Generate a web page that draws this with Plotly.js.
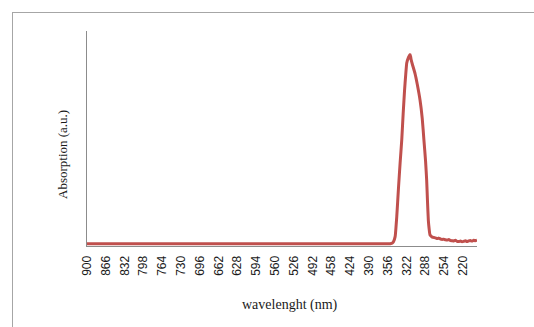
<!DOCTYPE html>
<html>
<head>
<meta charset="utf-8">
<script src="https://cdn.plot.ly/plotly-3.0.1.min.js"></script>
<style>
  html, body { margin: 0; padding: 0; width: 534px; height: 327px; overflow: hidden; background: #fff; }
  #frame { position: absolute; left: 12px; top: 12px; width: 600px; height: 400px; border: 1px solid #a6a6a6; box-sizing: border-box; }
  #chart { position: absolute; left: 0; top: 0; width: 534px; height: 327px; }
</style>
</head>
<body>
<div id="frame"></div>
<div id="chart"></div>
<script>
// wavelength (nm) and absorption (a.u.)
var wavelength = [900, 356, 352, 348, 346, 343, 340, 337, 334, 331, 328.5, 326, 324, 322, 319, 317, 316, 315, 314, 312, 307, 303, 298, 294, 291, 288, 286, 284.5, 283, 281.5, 280, 278, 276, 273, 270, 267, 264, 261, 258, 255, 252, 249, 246, 243, 240, 237, 234, 231, 228, 225, 222, 219, 216, 213, 210, 207, 204, 201, 198, 195];
var absorption = [0, 0, 0.001, 0.004, 0.01, 0.034, 0.13, 0.26, 0.38, 0.49, 0.61, 0.72, 0.79, 0.85, 0.875, 0.885, 0.89, 0.88, 0.865, 0.845, 0.80, 0.75, 0.676, 0.59, 0.49, 0.39, 0.30, 0.20, 0.112, 0.07, 0.042, 0.036, 0.032, 0.030, 0.028, 0.025, 0.027, 0.023, 0.021, 0.022, 0.019, 0.018, 0.020, 0.016, 0.015, 0.014, 0.017, 0.012, 0.011, 0.013, 0.010, 0.012, 0.015, 0.011, 0.014, 0.016, 0.013, 0.017, 0.015, 0.018];
var tickLabels = [900, 866, 832, 798, 764, 730, 696, 662, 628, 594, 560, 526, 492, 458, 424, 390, 356, 322, 288, 254, 220];

var trace = {
  x: wavelength,
  y: absorption,
  type: 'scatter',
  mode: 'lines',
  line: { color: '#C0504D', width: 3, shape: 'spline', smoothing: 0.4 },
  hoverinfo: 'x+y'
};

var layout = {
  width: 534,
  height: 327,
  margin: { l: 87, r: 57, t: 31, b: 81 },
  paper_bgcolor: 'rgba(0,0,0,0)',
  plot_bgcolor: 'rgba(0,0,0,0)',
  showlegend: false,
  xaxis: {
    range: [900, 195],
    tickmode: 'array',
    tickvals: tickLabels,
    ticktext: tickLabels.map(String),
    tickangle: -90,
    ticks: '',
    ticklabelstandoff: 4,
    showgrid: false,
    zeroline: false,
    showline: true,
    linecolor: '#8c8c8c',
    linewidth: 1,
    layer: 'below traces',
    tickfont: { family: 'Liberation Sans, Arial, sans-serif', size: 12, color: '#1a1a1a' }
  },
  yaxis: {
    range: [-0.01, 1.0],
    showticklabels: false,
    ticks: '',
    showgrid: false,
    zeroline: false,
    showline: true,
    linecolor: '#8c8c8c',
    linewidth: 1,
    layer: 'below traces'
  },
  annotations: [
    {
      text: 'wavelenght (nm)',
      xref: 'paper', yref: 'paper',
      x: (290 - 87) / 390, y: -(305 - 246) / 215,
      xanchor: 'center', yanchor: 'middle',
      showarrow: false,
      font: { family: 'Liberation Serif, Times New Roman, serif', size: 14, color: '#1a1a1a' }
    },
    {
      text: 'Absorption (a.u.)',
      xref: 'paper', yref: 'paper',
      x: -(87 - 62) / 390, y: (246 - 155) / 215,
      xanchor: 'center', yanchor: 'middle',
      textangle: -90,
      showarrow: false,
      font: { family: 'Liberation Serif, Times New Roman, serif', size: 13, color: '#1a1a1a' }
    }
  ]
};

Plotly.newPlot('chart', [trace], layout, { displayModeBar: false, staticPlot: true });
</script>
</body>
</html>
